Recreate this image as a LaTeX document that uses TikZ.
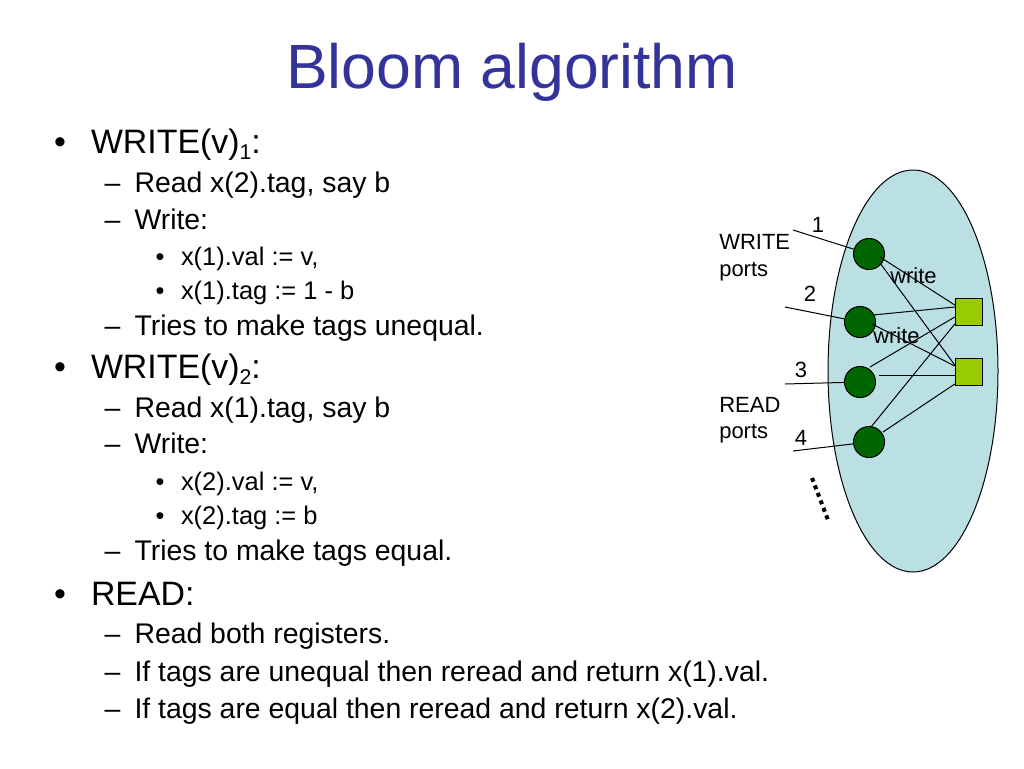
\documentclass[tikz,border=0pt]{standalone}
\usepackage{fontspec}
\setmainfont{Liberation Sans}
\usetikzlibrary{calc,shapes.geometric}
\definecolor{titleblue}{HTML}{333399}
\definecolor{ellfill}{HTML}{BBE0E3}
\definecolor{portgreen}{HTML}{006600}
\definecolor{reggreen}{HTML}{99CC00}
\newcommand{\fs}[1]{\fontsize{#1}{#1}\selectfont}
\begin{document}
\begin{tikzpicture}[x=0.75pt,y=-0.75pt,
  txt/.style={anchor=base west,inner sep=0pt,outer sep=0pt},
  mark1/.style={anchor=base,inner sep=0pt,font=\fs{25.4}},
  mark2/.style={anchor=base,inner sep=0pt,font=\fs{21.3}},
  mark3/.style={anchor=base,inner sep=0pt,font=\fs{19}},
  lvla/.style={txt,font=\fs{25.4}},
  lvlb/.style={txt,font=\fs{21.3}},
  lvlc/.style={txt,font=\fs{19.1}},
  small/.style={inner sep=0pt,font=\fs{16.5}},
  port/.style={circle,draw=black,line width=0.75pt,fill=portgreen,minimum size=23.3pt,inner sep=0pt},
  reg/.style={rectangle,draw=black,line width=0.75pt,fill=reggreen,minimum size=20.6pt,inner sep=0pt},
  wire/.style={draw=black,line width=0.75pt}]
\useasboundingbox (0,0) rectangle (1024,768);
\fill[white] (0,0) rectangle (1024,768);

% title
\node[anchor=base,inner sep=0pt,text=titleblue,font=\fs{46.9}] (title) at (512,88) {Bloom algorithm};

% block 1
\node[mark1] (b1) at (60,153) {•};
\node[lvla] (t1) at (91,153) {WRITE(v)\raisebox{-5pt}{\fs{16}1}:};
\node[mark2] (d11) at (112.5,192) {–};
\node[lvlb] (t11) at (134.5,192) {Read x(2).tag, say b};
\node[mark2] (d12) at (112.5,229) {–};
\node[lvlb] (t12) at (134.5,229) {Write:};
\node[mark3] (e11) at (160,265) {•};
\node[lvlc] (t13) at (181,265) {x(1).val := v,};
\node[mark3] (e12) at (160,299) {•};
\node[lvlc] (t14) at (181,299) {x(1).tag := 1 - b};
\node[mark2] (d13) at (112.5,335) {–};
\node[lvlb] (t15) at (134.5,335) {Tries to make tags unequal.};

% block 2
\node[mark1] (b2) at (60,378) {•};
\node[lvla] (t2) at (91,378) {WRITE(v)\raisebox{-5pt}{\fs{16}2}:};
\node[mark2] (d21) at (112.5,417) {–};
\node[lvlb] (t21) at (134.5,417) {Read x(1).tag, say b};
\node[mark2] (d22) at (112.5,453) {–};
\node[lvlb] (t22) at (134.5,453) {Write:};
\node[mark3] (e21) at (160,490) {•};
\node[lvlc] (t23) at (181,490) {x(2).val := v,};
\node[mark3] (e22) at (160,524) {•};
\node[lvlc] (t24) at (181,524) {x(2).tag := b};
\node[mark2] (d23) at (112.5,560) {–};
\node[lvlb] (t25) at (134.5,560) {Tries to make tags equal.};

% block 3
\node[mark1] (b3) at (60,605) {•};
\node[lvla] (t3) at (91,605) {READ:};
\node[mark2] (d31) at (112.5,643) {–};
\node[lvlb] (t31) at (134.5,643) {Read both registers.};
\node[mark2] (d32) at (112.5,681) {–};
\node[lvlb] (t32) at (134.5,681) {If tags are unequal then reread and return x(1).val.};
\node[mark2] (d33) at (112.5,718) {–};
\node[lvlb] (t33) at (134.5,718) {If tags are equal then reread and return x(2).val.};

% diagram
\node[ellipse,draw=black,line width=0.75pt,fill=ellfill,minimum width=127.5pt,minimum height=301.5pt,inner sep=0pt] (mem) at (913,371) {};

\coordinate (p1) at (793,230);
\coordinate (p2) at (785,307);
\coordinate (p3) at (785,384);
\coordinate (p4) at (793,451);

\node[port] (c1) at (869,254) {};
\node[port] (c2) at (860,322) {};
\node[port] (c3) at (860,382) {};
\node[port] (c4) at (869,442) {};

\draw[wire] (p1) -- (c1);
\draw[wire] (p2) -- (c2);
\draw[wire] (p3) -- (c3);
\draw[wire] (p4) -- (c4);

\node[reg] (s1) at (969,312) {};
\node[reg] (s2) at (969,372) {};

\draw[wire] ($(c1.center)+(11,3)$) -- ($(s1.west)+(0,-7)$);
\draw[wire] ($(c1.center)+(11,9)$) -- ($(s2.west)+(0,-7)$);
\draw[wire] ($(c2.center)+(13,-7)$) -- ($(s1.west)+(0,-5)$);
\draw[wire] ($(c2.center)+(12,2)$) -- ($(s2.west)+(0,-6)$);
\draw[wire] ($(c3.center)+(10,-15)$) -- ($(s1.west)+(0,5)$);
\draw[wire] ($(c3.center)+(19,-7)$) -- ($(s2.west)+(0,3)$);
\draw[wire] ($(c4.center)+(2,-15)$) -- ($(s1.west)+(0,12)$);
\draw[wire] ($(c4.center)+(14,-10)$) -- ($(s2.west)+(0,12)$);

\node[reg] at (s1) {};
\node[reg] at (s2) {};

\node[small,anchor=base] (n1) at (818,232) {1};
\node[small,anchor=base] (n2) at (810,301) {2};
\node[small,anchor=base] (n3) at (801,377) {3};
\node[small,anchor=base] (n4) at (801,445) {4};

\node[small,anchor=base west] (wl1) at (719,249) {WRITE};
\node[small,anchor=base west] (wl2) at (719,276) {ports};
\node[small,anchor=base west] (rl1) at (719,412) {READ};
\node[small,anchor=base west] (rl2) at (719,438) {ports};

\node[small,anchor=base west] (w1) at (890,283) {write};
\node[small,anchor=base west] (w2) at (873,343) {write};

\coordinate (dotA) at (812,478);
\coordinate (dotB) at (828,520);
\draw[line width=3pt,dash pattern=on 3pt off 3pt] (dotA) -- (dotB);
\end{tikzpicture}
\end{document}
